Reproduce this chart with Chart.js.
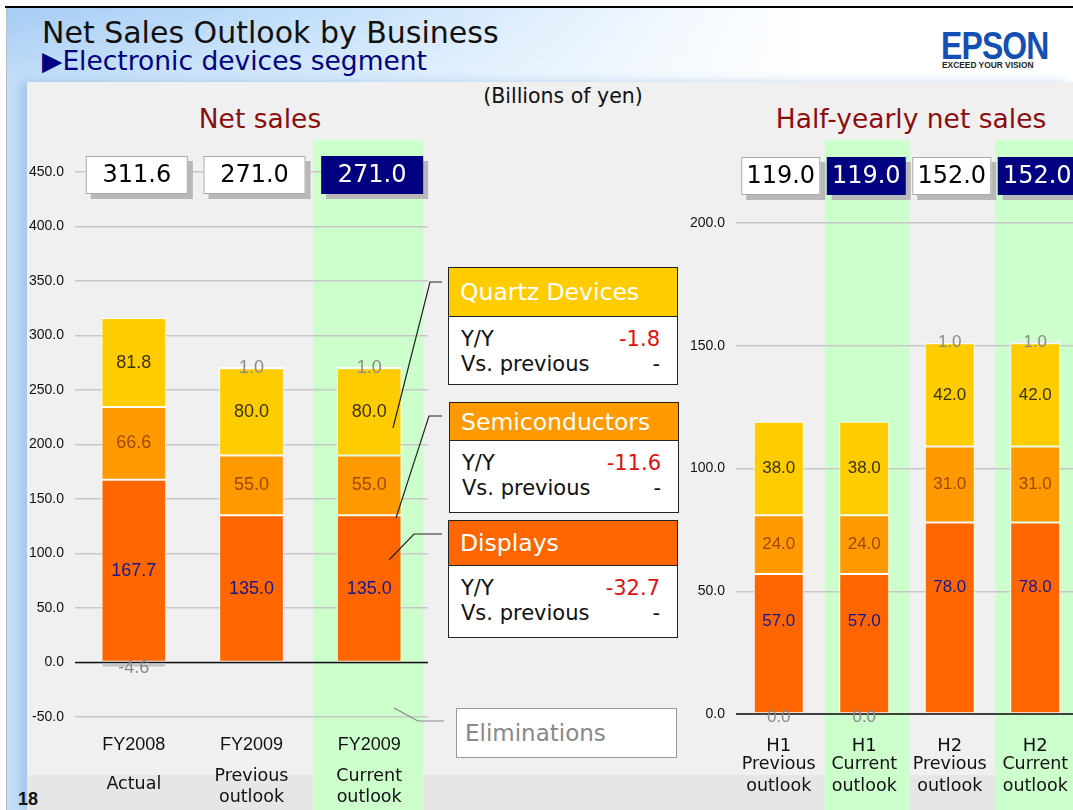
<!DOCTYPE html>
<html>
<head>
<meta charset="utf-8">
<script src="https://cdn.jsdelivr.net/npm/chart.js@4.4.1/dist/chart.umd.min.js"></script>
<style>
body{margin:0;width:1073px;height:810px;overflow:hidden;background:#fff;position:relative;font-family:"DejaVu Sans",Verdana,sans-serif;color:#111}
.abs{position:absolute}
#topline{left:5px;top:6px;width:1068px;height:2px;background:#000}
#head{left:6px;top:8px;right:0;bottom:0;border-left:1px solid #bbb;
  background:linear-gradient(to bottom,rgba(255,255,255,0) 0,rgba(255,255,255,0.35) 80px),
             linear-gradient(to right,#a6cdf5 0,#c4e0fa 30%,#eef6fe 60%,#fff 75%)}
#panel{left:27px;top:82px;width:1046px;height:728px;background:#f0f0f0;box-shadow:-7px 0 9px rgba(120,170,220,0.45)}
#strip{left:27px;top:775px;width:1046px;height:35px;background:#e6e6e6}
#title{left:42px;top:15px;font-size:30px;white-space:nowrap}
#sub{left:42px;top:45px;font-size:26.5px;color:#000080;white-space:nowrap}
.ctitle{font-size:26.5px;color:#8b0e0e;white-space:nowrap;transform:translateX(-50%)}
#unit{left:563px;top:84px;font-size:20.5px;transform:translateX(-50%);white-space:nowrap}
#logo{left:941px;top:27px;font-family:"Liberation Sans",Arial,sans-serif;font-weight:bold;font-size:38px;color:#1450b4;line-height:1;transform:scaleX(0.84);transform-origin:left top;letter-spacing:-1px}
#tag{left:942px;top:60px;font-family:"Liberation Sans",Arial,sans-serif;font-weight:bold;font-size:9px;color:#222;white-space:nowrap;transform:scaleX(0.93);transform-origin:left top}
#page{left:18px;top:789px;font-family:"Liberation Sans",Arial,sans-serif;font-weight:bold;font-size:18px}
canvas{position:absolute}
.co{position:absolute;background:#fff;border:1px solid #222;box-sizing:border-box}
.co .hd{color:#fff;font-size:23.5px;padding-left:11px;border-bottom:1px solid #222;box-sizing:border-box;display:flex;align-items:center}
.co .row{display:flex;justify-content:space-between;font-size:21px;height:25px;line-height:25px;padding:0 17px 0 12px}
.co .red{color:#dd1111}
#elim{position:absolute;left:456px;top:708px;width:221px;height:50px;border:1px solid #999;background:#fff;box-sizing:border-box;color:#888;font-size:23px;line-height:48px;padding-left:8px}
svg{position:absolute;left:0;top:0}
</style>
</head>
<body>
<div id="topline" class="abs"></div>
<div id="head" class="abs"></div>
<div id="panel" class="abs"></div>
<div id="strip" class="abs"></div>
<div id="title" class="abs">Net Sales Outlook by Business</div>
<div id="sub" class="abs">▶Electronic devices segment</div>
<div id="logo" class="abs">EPSON</div>
<div id="tag" class="abs">EXCEED YOUR VISION</div>
<div id="unit" class="abs">(Billions of yen)</div>
<div class="abs ctitle" style="left:260px;top:103px">Net sales</div>
<div class="abs ctitle" style="left:911px;top:103px">Half-yearly net sales</div>
<div id="page" class="abs">18</div>

<canvas id="leftChart" width="440" height="680" style="left:0;top:130px"></canvas>
<canvas id="halfChart" width="400" height="680" style="left:680px;top:130px"></canvas>

<div id="callouts"></div>
<div id="elim">Eliminations</div>
<svg width="1073" height="810">
  <polyline points="393,428 430,282 442,282" fill="none" stroke="#222" stroke-width="1.2"/>
  <polyline points="396,518 429,416 442,416" fill="none" stroke="#222" stroke-width="1.2"/>
  <polyline points="389,560 414,534 442,534" fill="none" stroke="#222" stroke-width="1.2"/>
  <polyline points="394,708 418,721 444,721" fill="none" stroke="#888" stroke-width="1.2"/>
</svg>

<script>
// ================= DATA =================
const leftCats = ["FY2008","FY2009","FY2009"];
const leftSub = [["Actual"],["Previous","outlook"],["Current","outlook"]];
const leftDisplays = [167.7,135.0,135.0];
const leftSemis = [66.6,55.0,55.0];
const leftQuartz = [81.8,80.0,80.0];
const leftOthers = [null,1.0,1.0];
const leftElim = [-4.6,null,null];
const leftTotals = [311.6,271.0,271.0];
const leftCurrent = [false,false,true];

const halfCats = ["H1","H1","H2","H2"];
const halfSub = [["Previous","outlook"],["Current","outlook"],["Previous","outlook"],["Current","outlook"]];
const halfDisplays = [57.0,57.0,78.0,78.0];
const halfSemis = [24.0,24.0,31.0,31.0];
const halfQuartz = [38.0,38.0,42.0,42.0];
const halfOthers = [null,null,1.0,1.0];
const halfElim = [0.0,0.0,null,null];
const halfTotals = [119.0,119.0,152.0,152.0];
const halfCurrent = [false,true,false,true];

const segNames = ["Quartz Devices","Semiconductors","Displays"];
const segYoY = [-1.8,-11.6,-32.7];
const segVsPrev = ["-","-","-"];

// ================= CALLOUT BOXES =================
const segColors = ["#ffcc00","#ff9900","#ff6600"];
const coPos = [{left:448,top:267,h:118,head:49},{left:449,top:402,h:111,head:38},{left:448,top:520,h:118,head:45}];
const holder = document.getElementById("callouts");
segNames.forEach((n,i)=>{
    const p = coPos[i];
    const d = document.createElement("div");
    d.className = "co";
    d.style.cssText = `left:${p.left}px;top:${p.top}px;width:230px;height:${p.h}px`;
    d.innerHTML = `<div class="hd" style="height:${p.head}px;background:${segColors[i]}">${n}</div>
      <div style="padding-top:10px">
      <div class="row"><span>Y/Y</span><span class="red">${segYoY[i].toFixed(1)}</span></div>
      <div class="row"><span>Vs. previous</span><span>${segVsPrev[i]}</span></div></div>`;
    holder.appendChild(d);
});

// ================= CHARTS =================
const gray = "#c0c0c0";

// eliminations go first so a 0 value stays on the baseline
function makeSets(disp, semi, quartz, others, elim, dispFrac){
    return [
        {label:"Eliminations", data:elim, backgroundColor:gray, labelColor:"#8a8a8a", labelShift:3},
        {label:"Displays", data:disp, backgroundColor:"#ff6600", labelColor:"#17178f", labelFrac:dispFrac},
        {label:"Semiconductors", data:semi, backgroundColor:"#ff9900", labelColor:"#a04800"},
        {label:"Quartz Devices", data:quartz, backgroundColor:"#ffcc00", labelColor:"#3d3200"},
        {label:"Others", data:others, backgroundColor:gray, labelColor:"#8a8a8a"}
    ].map(d=>Object.assign(d,{borderColor:"#fff", borderWidth:1, borderSkipped:false}));
}

const sheet = {
    id:"sheet",
    beforeDraw(chart, args, o){
        const ctx = chart.ctx, x = chart.scales.x;
        const w = (x.getPixelForValue(1)-x.getPixelForValue(0))*o.bandFrac;
        ctx.save();
        ctx.fillStyle = "#ccffcc";
        o.current.forEach((c,i)=>{
            if(c) ctx.fillRect(x.getPixelForValue(i)-w/2+o.bandShift, 10, w, chart.height-10);
        });
        ctx.restore();
    },
    afterDatasetsDraw(chart, args, o){
        const ctx = chart.ctx, y = chart.scales.y, a = chart.chartArea;
        ctx.save();
        // zero line
        ctx.strokeStyle = "#111";
        ctx.lineWidth = 1.5;
        ctx.beginPath();
        ctx.moveTo(a.left, y.getPixelForValue(0));
        ctx.lineTo(a.right, y.getPixelForValue(0));
        ctx.stroke();
        // value labels
        ctx.font = o.valueFont;
        ctx.textAlign = "center";
        ctx.textBaseline = "middle";
        chart.data.datasets.forEach((ds,di)=>{
            chart.getDatasetMeta(di).data.forEach((bar,i)=>{
                const v = ds.data[i];
                if(v === null) return;
                const f = ds.labelFrac || 0.5;
                ctx.fillStyle = ds.labelColor;
                ctx.fillText(v.toFixed(1), bar.x, bar.base + (bar.y-bar.base)*f + (ds.labelShift||0));
            });
        });
        ctx.restore();
    },
    afterDraw(chart, args, o){
        const ctx = chart.ctx, x = chart.scales.x;
        ctx.save();
        // total boxes
        o.totals.forEach((t,i)=>{
            const cx = x.getPixelForValue(i)+o.boxShift, bx = cx-o.boxW/2, by = o.boxTop;
            ctx.fillStyle = "#b8b8b8";
            ctx.fillRect(bx+5, by+5, o.boxW, 38);
            ctx.fillStyle = o.current[i] ? "#000080" : "#fff";
            ctx.fillRect(bx, by, o.boxW, 38);
            if(!o.current[i]){
                ctx.strokeStyle = "#aaa";
                ctx.lineWidth = 1;
                ctx.strokeRect(bx+0.5, by+0.5, o.boxW-1, 37);
            }
            ctx.fillStyle = o.current[i] ? "#fff" : "#000";
            ctx.font = '24px "DejaVu Sans"';
            ctx.textAlign = "center";
            ctx.textBaseline = "middle";
            ctx.fillText(t.toFixed(1), cx, by+20);
        });
        // category labels
        ctx.fillStyle = "#111";
        o.main.forEach((m,i)=>{
            const cx = x.getPixelForValue(i);
            ctx.font = o.mainFont;
            ctx.fillText(m, cx, o.mainY);
            ctx.font = o.subFont;
            const lines = o.sub[i];
            lines.forEach((s,k)=>{
                const yy = lines.length === 1 ? o.subY1 : o.subY2[k];
                ctx.fillText(s, cx, yy);
            });
        });
        ctx.restore();
    }
};

function yScale(min, max, w){
    return {
        min:min, max:max, stacked:true,
        ticks:{stepSize:50, padding:11, color:"#111", font:{family:"Liberation Sans", size:14},
               callback:v=>v.toFixed(1)},
        grid:{color:"#c8c8c8", lineWidth:1.5, drawTicks:false},
        border:{display:false},
        afterFit:s=>{ s.width = w; }
    };
}

new Chart(document.getElementById("leftChart"), {
    type:"bar",
    data:{labels:leftCats, datasets:makeSets(leftDisplays,leftSemis,leftQuartz,leftOthers,leftElim,0.5)},
    options:{
        responsive:false, animation:false,
        layout:{padding:{top:42,bottom:93,left:0,right:12}},
        datasets:{bar:{categoryPercentage:1, barPercentage:0.55}},
        scales:{
            x:{display:false, stacked:true},
            y:yScale(-50,450,75)
        },
        plugins:{
            legend:{display:false}, tooltip:{enabled:false},
            sheet:{
                current:leftCurrent, bandFrac:0.94, bandShift:-1,
                totals:leftTotals, boxW:102, boxTop:26, boxShift:3,
                valueFont:'18px "Liberation Sans"',
                main:leftCats, sub:leftSub,
                mainFont:'18px "Liberation Sans"', mainY:615,
                subFont:'17.5px "DejaVu Sans"', subY1:654, subY2:[646,667]
            }
        }
    },
    plugins:[sheet]
});

new Chart(document.getElementById("halfChart"), {
    type:"bar",
    data:{labels:halfCats, datasets:makeSets(halfDisplays,halfSemis,halfQuartz,halfOthers,halfElim,0.66)},
    options:{
        responsive:false, animation:false,
        layout:{padding:{top:93,bottom:96,left:0,right:2}},
        datasets:{bar:{categoryPercentage:1, barPercentage:0.585}},
        scales:{
            x:{display:false, stacked:true},
            y:yScale(0,200,56)
        },
        plugins:{
            legend:{display:false}, tooltip:{enabled:false},
            sheet:{
                current:halfCurrent, bandFrac:1.0, bandShift:3,
                totals:halfTotals, boxW:79, boxTop:27, boxShift:2,
                valueFont:'17px "Liberation Sans"',
                main:halfCats, sub:halfSub,
                mainFont:'18px "DejaVu Sans"', mainY:616,
                subFont:'17.5px "DejaVu Sans"', subY1:645, subY2:[634,656]
            }
        }
    },
    plugins:[sheet]
});
</script>
</body>
</html>
